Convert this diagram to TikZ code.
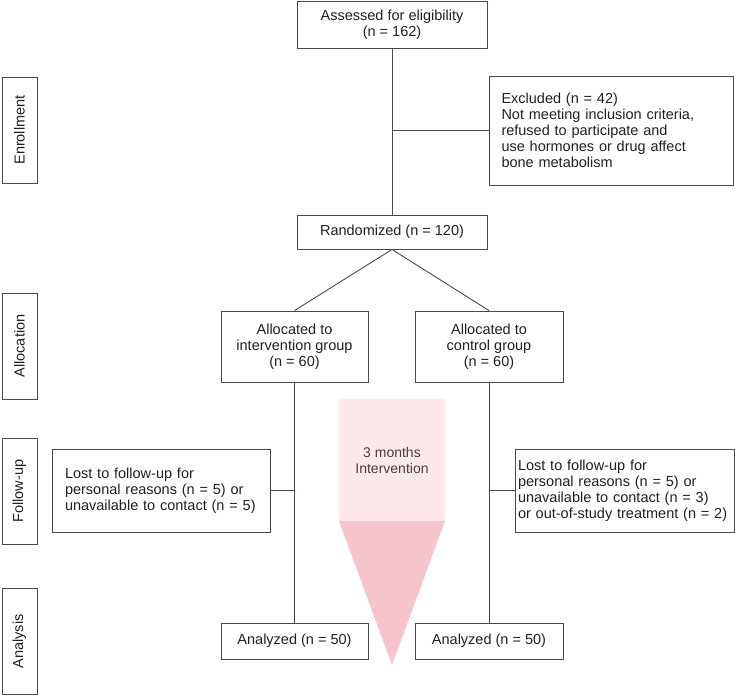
\documentclass[tikz,border=0pt]{standalone}
\usepackage{fontspec}
\setmainfont{Liberation Sans}
\usepackage{tikz}
\usetikzlibrary{calc}

\definecolor{linegray}{HTML}{4F4849}
\definecolor{textgray}{HTML}{231F20}
\definecolor{pinklight}{HTML}{FDE9EA}
\definecolor{pinkdark}{HTML}{F6C4CC}

\tikzset{
  box/.style={draw=linegray, line width=0.9pt, text=textgray, align=center,
    inner sep=0pt, font=\fontsize{14.5}{16}\selectfont},
  sidebox/.style={box, rotate=90, minimum width=106, minimum height=35},
  link/.style={draw=linegray, line width=0.9pt}
}

\begin{document}
\begin{tikzpicture}[x=1pt, y=-1pt]
\useasboundingbox (0, 0) rectangle (735, 696);

% pink intervention arrow
\fill[pinklight] (339, 399) rectangle (445, 521);
\fill[pinkdark] (339, 521) -- (445, 521) -- (392, 665) -- cycle;
\node[text=textgray!85, align=center, font=\fontsize{14}{16}\selectfont] (months) at (392, 460) {3 months\\Intervention};

% stage labels
\node[sidebox] (enroll) at (19.5, 130) {Enrollment};
\node[sidebox] (alloc) at (19.5, 346) {Allocation};
\node[sidebox] (follow) at (19.5, 491) {Follow-up};
\node[sidebox] (analysis) at (19.5, 641.5) {Analysis};

% boxes
\node[box, minimum width=190, minimum height=47] (assess) at (392, 24.5) {Assessed for eligibility\\(n = 162)};
\node[box, minimum width=243, minimum height=109, text width=220, inner xsep=12, align=left] (excl) at (611.5, 130.5)
  {Excluded (n = 42)\\Not meeting inclusion criteria,\\refused to participate and\\use hormones or drug affect\\bone metabolism};
\node[box, minimum width=190, minimum height=34] (rand) at (392, 232) {Randomized (n = 120)};
\node[box, minimum width=147, minimum height=71] (allocI) at (294.5, 346.5) {Allocated to\\intervention group\\(n = 60)};
\node[box, minimum width=148, minimum height=71] (allocC) at (489, 346.5) {Allocated to\\control group\\(n = 60)};
\node[box, minimum width=218, minimum height=83, text width=192, inner xsep=13, align=left] (lostI) at (161, 490.5)
  {Lost to follow-up for\\personal reasons (n = 5) or\\unavailable to contact (n = 5)};
\node[box, minimum width=219, minimum height=83, text width=213, inner xsep=3, align=left] (lostC) at (624.5, 490.5)
  {Lost to follow-up for\\personal reasons (n = 5) or\\unavailable to contact (n = 3)\\or out-of-study treatment (n = 2)};
\node[box, minimum width=147, minimum height=36] (anaI) at (294.5, 641) {Analyzed (n = 50)};
\node[box, minimum width=148, minimum height=36] (anaC) at (489, 641) {Analyzed (n = 50)};

% connectors
\draw[link] (assess) -- (rand);
\draw[link] (assess.south |- excl.west) -- (excl.west);
\draw[link] (rand.south) -- (allocI.north)
            (rand.south) -- (allocC.north);
\draw[link] (allocI) -- (anaI)
            (allocC) -- (anaC);
\draw[link] (allocI.south |- lostI.east) -- (lostI.east);
\draw[link] (allocC.south |- lostC.west) -- (lostC.west);
\end{tikzpicture}
\end{document}
